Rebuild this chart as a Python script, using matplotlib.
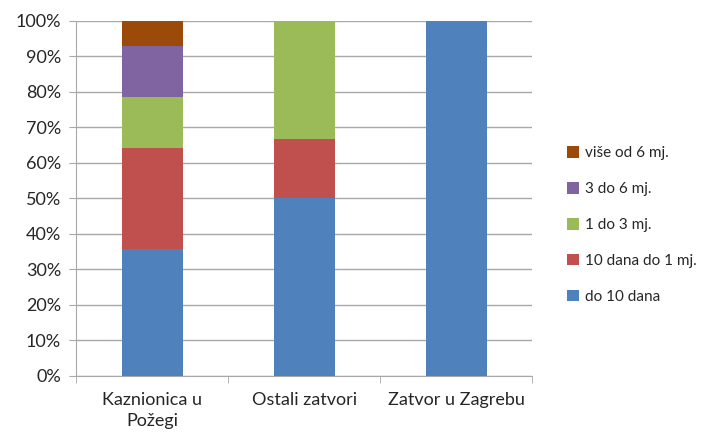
import numpy as np
import matplotlib.pyplot as plt
from matplotlib.ticker import PercentFormatter

plt.rcParams['font.family'] = ['Lato', 'DejaVu Sans']

categories = ['Kaznionica u\nPožegi', 'Ostali zatvori', 'Zatvor u Zagrebu']
series_names = ['do 10 dana', '10 dana do 1 mj.', '1 do 3 mj.', '3 do 6 mj.', 'više od 6 mj.']
# shares in percent, per category
do_10_dana = [35.7, 50.0, 100.0]
dana10_do_1mj = [28.6, 16.7, 0.0]
mj1_do_3 = [14.3, 33.3, 0.0]
mj3_do_6 = [14.3, 0.0, 0.0]
vise_od_6 = [7.1, 0.0, 0.0]
colors = ['#4F81BD', '#C0504D', '#9BBB59', '#8064A2', '#9C4A0A']

values = [do_10_dana, dana10_do_1mj, mj1_do_3, mj3_do_6, vise_od_6]

fig = plt.figure(figsize=(7.26, 4.36), dpi=100)
ax = fig.add_axes([0.105, 0.138, 0.628, 0.814])

x = np.arange(len(categories))
bottom = np.zeros(len(categories))
bars = []
for name, vals, c in zip(series_names, values, colors):
    b = ax.bar(x, vals, 0.4, bottom=bottom, color=c, label=name, zorder=3)
    bars.append(b)
    bottom += np.array(vals)

ax.set_ylim(0, 100)
ax.set_xlim(-0.5, 2.5)
ax.set_yticks(np.arange(0, 101, 10))
ax.yaxis.set_major_formatter(PercentFormatter(decimals=0))
ax.grid(axis='y', color='#A8A8A8', linewidth=1, zorder=0)

ax.set_xticks(x)
ax.set_xticklabels(categories, fontsize=13, color='#262626', linespacing=1.35)
ax.tick_params(axis='x', length=0, pad=12)
ax.set_xticks([-0.5, 0.5, 1.5, 2.5], minor=True)
ax.tick_params(axis='x', which='minor', length=5, color='#A8A8A8', direction='out')
ax.tick_params(axis='y', length=5, color='#A8A8A8', labelsize=13, labelcolor='#262626', pad=6)

for s in ['top', 'right']:
    ax.spines[s].set_visible(False)
for s in ['left', 'bottom']:
    ax.spines[s].set_color('#A8A8A8')

fig.legend(bars[::-1], series_names[::-1], loc='center left',
           bbox_to_anchor=(0.762, 0.484), frameon=False, fontsize=11,
           labelspacing=1.42, handlelength=0.8, handleheight=0.8,
           handletextpad=0.4, labelcolor='#262626')

fig.savefig('out.png', dpi=100)
